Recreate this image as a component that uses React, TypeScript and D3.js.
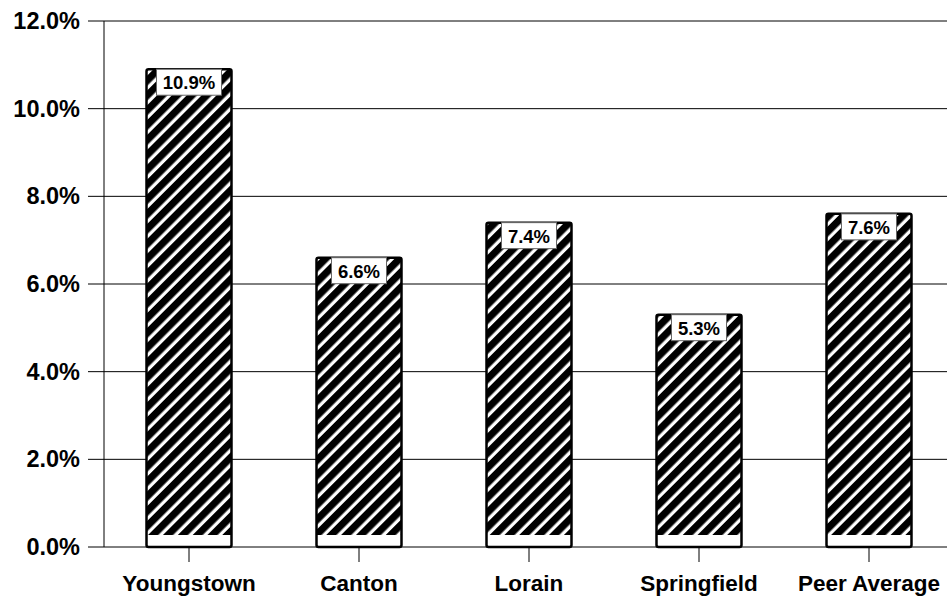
import * as d3 from "d3";
import * as React from "react";

const categories = ["Youngstown", "Canton", "Lorain", "Springfield", "Peer Average"];
const values = [10.9, 6.6, 7.4, 5.3, 7.6];
const yTicks = [0, 2, 4, 6, 8, 10, 12];

const W = 947;
const H = 599;
const margin = { top: 21, left: 104, bottom: 52 };
const plotRight = 954;

export default function App() {
  const x = d3
    .scaleBand()
    .domain(categories)
    .range([margin.left, plotRight])
    .paddingInner(0.5)
    .paddingOuter(0.25);
  const y = d3.scaleLinear().domain([0, 12]).range([H - margin.bottom, margin.top]);
  const y0 = y(0);
  const font = "Arial, 'Liberation Sans', sans-serif";

  return (
    <svg width={W} height={H} style={{ position: "absolute", left: 0, top: 0 }}>
      <defs>
        <pattern id="hatch" patternUnits="userSpaceOnUse" width="10.5" height="10.5" patternTransform="rotate(45)">
          <rect width="10.5" height="10.5" fill="#fff" />
          <rect width="7.2" height="10.5" fill="#000" />
        </pattern>
      </defs>
      <rect width={W} height={H} fill="#fff" />
      {/* grid lines */}
      {yTicks.map((t) => (
        <g key={t}>
          <line x1={margin.left - 16} x2={W} y1={y(t)} y2={y(t)} stroke="#000" strokeWidth={1} />
          <text
            x={80}
            y={y(t) + 8}
            textAnchor="end"
            fontFamily={font}
            fontWeight="bold"
            fontSize={23.5}
            fill="#000"
          >
            {t.toFixed(1) + "%"}
          </text>
        </g>
      ))}
      <line x1={margin.left} x2={margin.left} y1={y(12)} y2={y0} stroke="#000" strokeWidth={1} />
      {/* bars */}
      {categories.map((c, i) => {
        const bx = x(c) as number;
        const bw = x.bandwidth();
        const by = y(values[i]);
        const boxW = values[i] >= 10 ? 65 : 55;
        return (
          <g key={c}>
            <rect x={bx} y={by} width={bw} height={y0 - by} fill="url(#hatch)" />
            <rect x={bx} y={y0 - 12} width={bw} height={12} fill="#fff" />
            <rect
              x={bx}
              y={by}
              width={bw}
              height={y0 - by}
              fill="none"
              stroke="#000"
              strokeWidth={2.5}
              rx={2}
            />
            <line
              x1={bx + bw / 2}
              x2={bx + bw / 2}
              y1={y0}
              y2={y0 + 15}
              stroke="#000"
              strokeWidth={1}
            />
            <rect
              x={bx + bw / 2 - boxW / 2}
              y={by}
              width={boxW}
              height={26}
              fill="#fff"
              stroke="#666"
              strokeWidth={1}
            />
            <text
              x={bx + bw / 2}
              y={by + 20}
              textAnchor="middle"
              fontFamily={font}
              fontWeight="bold"
              fontSize={18.5}
              fill="#000"
            >
              {values[i].toFixed(1) + "%"}
            </text>
            <text
              x={bx + bw / 2}
              y={591}
              textAnchor="middle"
              fontFamily={font}
              fontWeight="bold"
              fontSize={22.5}
              fill="#000"
            >
              {c}
            </text>
          </g>
        );
      })}
    </svg>
  );
}
